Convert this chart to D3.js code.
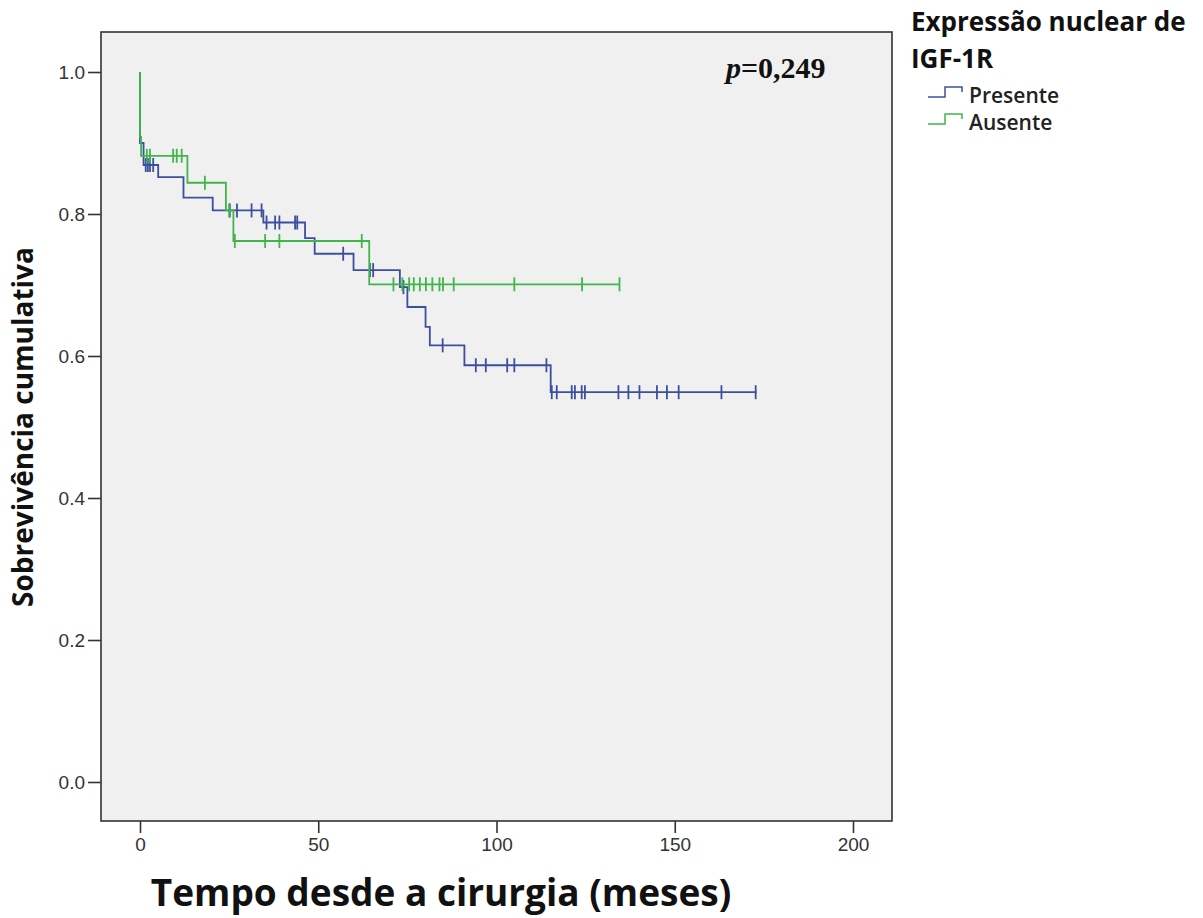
<!DOCTYPE html>
<html>
<head>
<meta charset="utf-8">
<script src="https://cdn.jsdelivr.net/npm/d3@7"></script>
<style>
  body { margin: 0; background: #fff; }
  svg { display: block; }
</style>
</head>
<body>
<svg width="1203" height="918"></svg>
<script>
// Survival steps (time in months, cumulative survival after the step)
const presenteTimes = [0, 0, 1.0, 5.1, 12.2, 20.4, 34.6, 46.3, 49.0, 59.9, 72.9, 75.0, 80.1, 81.3, 91.0, 115.2, 173.0];
const presenteSurv = [1.0, 0.90, 0.869, 0.852, 0.823, 0.805, 0.788, 0.766, 0.744, 0.721, 0.697, 0.669, 0.641, 0.615, 0.587, 0.549, 0.549];
const presenteCensor = [1.6, 2.2, 2.8, 3.7, 25.2, 27.2, 31.3, 34.1, 35.5, 37.9, 39.1, 43.5, 44.1, 57.0, 64.5, 65.4,
  73.9, 84.9, 94.2, 97.0, 103.0, 105.0, 114.0, 115.5, 116.9, 121.1, 122.0, 123.9, 124.8, 134.2, 137.0, 140.1,
  145.0, 147.8, 151.1, 163.1, 172.7];

const ausenteTimes = [0, 0, 0.3, 13.3, 24.1, 26.2, 64.3, 134.6];
const ausenteSurv = [1.0, 0.909, 0.882, 0.844, 0.805, 0.762, 0.701, 0.701];
const ausenteCensor = [1.9, 2.8, 9.3, 10.3, 11.7, 18.2, 25.0, 26.6, 35.1, 39.1, 62.2, 71.1, 73.6, 75.5, 76.8,
  78.5, 80.2, 82.0, 84.0, 85.0, 88.0, 105.0, 124.0, 134.5];

const xTicks = [0, 50, 100, 150, 200];
const yTicks = [0, 0.2, 0.4, 0.6, 0.8, 1.0];
const groupNames = ['Presente', 'Ausente'];
const groupColors = ['#3c4f9f', '#3fb54a'];

const svg = d3.select('svg');
const frame = { left: 101, top: 32, right: 892, bottom: 821 };

const x = d3.scaleLinear().domain([0, 200]).range([140, 853]);
const y = d3.scaleLinear().domain([0, 1]).range([782, 72]);

// plot background
svg.append('rect')
  .attr('x', frame.left).attr('y', frame.top)
  .attr('width', frame.right - frame.left).attr('height', frame.bottom - frame.top)
  .attr('fill', '#f0f0f0');

// axes
const xAxis = svg.append('g')
  .attr('transform', `translate(0,${frame.bottom})`)
  .call(d3.axisBottom(x).tickValues(xTicks).tickSize(12).tickPadding(5));
const yAxis = svg.append('g')
  .attr('transform', `translate(${frame.left},0)`)
  .call(d3.axisLeft(y).tickValues(yTicks).tickFormat(d3.format('.1f')).tickSize(13).tickPadding(3));
[xAxis, yAxis].forEach(a => {
  a.select('.domain').remove();
  a.selectAll('line').attr('stroke', '#333').attr('stroke-width', 1.6);
  a.selectAll('text')
    .attr('fill', '#333')
    .style('font-family', 'Liberation Sans, Arial, sans-serif')
    .style('font-size', '19px');
});

const groups = [
  { times: presenteTimes, surv: presenteSurv, censor: presenteCensor },
  { times: ausenteTimes, surv: ausenteSurv, censor: ausenteCensor }
];

const line = d3.line()
  .x(d => x(d[0]))
  .y(d => y(d[1]))
  .curve(d3.curveStepAfter);

function survAt(g, t) {
  let s = g.surv[0];
  g.times.forEach((tt, i) => { if (tt <= t) s = g.surv[i]; });
  return s;
}

groups.forEach((g, gi) => {
  const pts = g.times.map((t, i) => [t, g.surv[i]]);
  svg.append('path')
    .attr('d', line(pts))
    .attr('fill', 'none')
    .attr('stroke', groupColors[gi])
    .attr('stroke-width', 1.8);

  svg.append('g')
    .selectAll('line')
    .data(g.censor)
    .enter()
    .append('line')
    .attr('x1', d => x(d)).attr('x2', d => x(d))
    .attr('y1', d => y(survAt(g, d)) - 7)
    .attr('y2', d => y(survAt(g, d)) + 7)
    .attr('stroke', groupColors[gi])
    .attr('stroke-width', 1.8);
});

// frame
svg.append('rect')
  .attr('x', frame.left).attr('y', frame.top)
  .attr('width', frame.right - frame.left).attr('height', frame.bottom - frame.top)
  .attr('fill', 'none')
  .attr('stroke', '#333')
  .attr('stroke-width', 1.6);

// p-value
const pText = svg.append('text')
  .attr('x', 726).attr('y', 78)
  .style('font-family', 'Liberation Serif, Times New Roman, serif')
  .style('font-size', '30px')
  .style('font-weight', 'bold')
  .attr('fill', '#111');
pText.append('tspan').style('font-style', 'italic').text('p');
pText.append('tspan').text('=0,249');

// axis titles
svg.append('text')
  .attr('x', 441).attr('y', 906)
  .attr('text-anchor', 'middle')
  .style('font-family', 'Open Sans, sans-serif')
  .style('font-size', '37px')
  .style('font-weight', 'bold')
  .attr('fill', '#111')
  .text('Tempo desde a cirurgia (meses)');

svg.append('text')
  .attr('transform', 'translate(33,427) rotate(-90)')
  .attr('text-anchor', 'middle')
  .style('font-family', 'Open Sans, sans-serif')
  .style('font-size', '28px')
  .style('font-weight', 'bold')
  .attr('fill', '#111')
  .text('Sobrevivência cumulativa');

// legend
const legend = svg.append('g');
['Expressão nuclear de', 'IGF-1R'].forEach((t, i) => {
  legend.append('text')
    .attr('x', 911).attr('y', 31 + i * 37)
    .style('font-family', 'Open Sans, sans-serif')
    .style('font-size', '26px')
    .style('font-weight', 'bold')
    .attr('fill', '#111')
    .text(t);
});
groupNames.forEach((name, i) => {
  const by = 97 + i * 27;
  legend.append('path')
    .attr('d', `M928,${by}H945V${by - 10}H962V${by - 5}`)
    .attr('fill', 'none')
    .attr('stroke', groupColors[i])
    .attr('stroke-width', 1.5);
  legend.append('text')
    .attr('x', 969).attr('y', by + 6)
    .style('font-family', 'Open Sans, sans-serif')
    .style('font-size', '21px')
    .style('font-weight', '600')
    .attr('fill', '#222')
    .text(name);
});
</script>
</body>
</html>
